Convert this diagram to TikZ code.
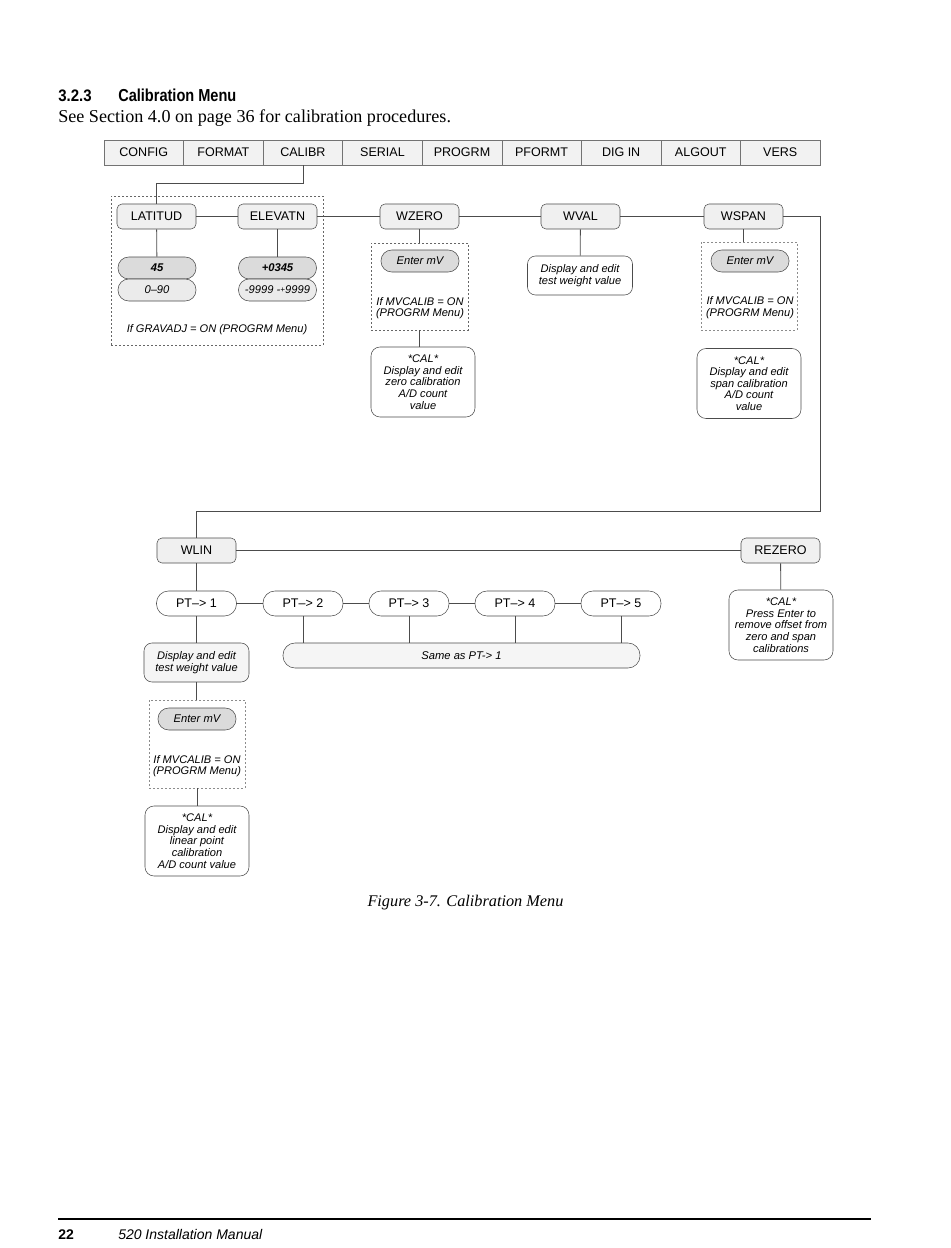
\documentclass[tikz,border=0pt]{standalone}
\usepackage{fontspec}
\setmainfont{Liberation Serif}
\setsansfont{Liberation Sans}
\usepackage{graphicx}
\begin{document}
\begin{tikzpicture}[x=0.75pt,y=-0.75pt]
  \def\cellw{59.67pt}
  \tikzstyle{link} = [draw=black!70, line width=0.6pt]
  \tikzstyle{menucell} = [draw=black!55, fill=black!5, minimum width=\cellw, minimum height=18.75pt, inner sep=0pt, font=\sffamily\fontsize{9.4}{10}\selectfont]
  \tikzstyle{item} = [draw=black!70, fill=black!6, rounded corners=3.75pt, minimum width=59.25pt, minimum height=18.75pt, inner sep=0pt, font=\sffamily\fontsize{9.4}{10}\selectfont]
  \tikzstyle{valpill} = [draw=black!70, fill=black!14, rounded corners=8pt, minimum width=58.5pt, minimum height=16.5pt, inner sep=0pt, font=\sffamily\itshape\fontsize{8.4}{9}\selectfont]
  \tikzstyle{ptpill} = [draw=black!70, fill=white, rounded corners=9pt, minimum width=60pt, minimum height=18.75pt, inner sep=0pt, font=\sffamily\fontsize{9.4}{10}\selectfont]
  \tikzstyle{note} = [draw=black!70, fill=white, rounded corners=6.75pt, minimum width=78pt, minimum height=52.5pt, inner sep=0pt, align=center, font=\sffamily\itshape\fontsize{8.3}{8.7}\selectfont]
  \tikzstyle{dispnote} = [note, fill=black!4, minimum width=78.75pt, minimum height=29.25pt, rounded corners=6pt]
  \tikzstyle{optbox} = [draw=black!60, dash pattern=on 1.5pt off 1.5pt, line width=0.6pt, inner sep=0pt]
  \tikzstyle{remark} = [inner sep=0pt, align=center, font=\sffamily\itshape\fontsize{8.3}{8.7}\selectfont]

  \useasboundingbox[fill=white] (0,0) rectangle (950,1248);

  % heading
  \node[anchor=base west, inner sep=0pt, font=\sffamily\bfseries\fontsize{12.5}{14}\selectfont] (secnum) at (58,102) {\scalebox{0.9}[1]{3.2.3}};
  \node[anchor=base west, inner sep=0pt, font=\sffamily\bfseries\fontsize{13}{14}\selectfont] (sectitle) at (118,102) {\scalebox{0.84}[1]{Calibration Menu}};
  \node[anchor=base west, inner sep=0pt, font=\fontsize{13.6}{15}\selectfont] (intro) at (58,123) {See Section 4.0 on page 36 for calibration procedures.};

  % top menu
  \foreach \name [count=\i] in {CONFIG, FORMAT, CALIBR, SERIAL, PROGRM, PFORMT, DIG IN, ALGOUT, VERS}
    \node[menucell] (m\i) at ({104+79.56*(\i-0.5)}, 152.5) {\name};

  % optional groups (drawn first)
  \node[optbox, minimum width=159pt, minimum height=111.75pt] (gravbox) at (217,270.5) {};
  \node[optbox, minimum width=72.75pt, minimum height=65.25pt] (zbox) at (419.5,286.5) {};
  \node[optbox, draw=black!45, minimum width=72pt, minimum height=66pt] (sbox) at (749,286) {};
  \node[optbox, draw=black!45, minimum width=72pt, minimum height=66pt] (lbox) at (197,744) {};

  % first row
  \node[item] (lat) at (156.5,216.5) {LATITUD};
  \node[item] (elev) at (277.5,216.5) {ELEVATN};
  \node[item] (wzero) at (419.5,216.5) {WZERO};
  \node[item] (wval) at (580.5,216.5) {WVAL};
  \node[item] (wspan) at (743.5,216.5) {WSPAN};

  \node[valpill, font=\sffamily\bfseries\itshape\fontsize{8.4}{9}\selectfont] (lat45) at (157,268) {45};
  \node[valpill, fill=black!8] (latrng) at (157,290) {0–90};
  \node[valpill, font=\sffamily\bfseries\itshape\fontsize{8.4}{9}\selectfont] (elev0345) at (277.5,268) {+0345};
  \node[valpill, fill=black!8] (elevrng) at (277.5,290) {-9999 -\raisebox{0.3ex}{\fontsize{6}{6}\selectfont+}9999};
  \node[remark] (gravnote) at (217,330) {If GRAVADJ = ON (PROGRM Menu)};

  \node[valpill] (zmv) at (420,261) {Enter mV};
  \node[remark] (ztext) at (420,308) {If MVCALIB = ON\\(PROGRM Menu)};
  \node[note] (zcal) at (423,382) {*CAL*\\Display and edit\\zero calibration\\A/D count\\value};

  \node[dispnote, fill=white] (valnote) at (580,275.5) {Display and edit\\test weight value};

  \node[valpill] (smv) at (750,261) {Enter mV};
  \node[remark] (stext) at (750,307.5) {If MVCALIB = ON\\(PROGRM Menu)};
  \node[note] (scal) at (749,383.5) {*CAL*\\Display and edit\\span calibration\\A/D count\\value};

  % second row
  \node[item] (wlin) at (196.5,550.5) {WLIN};
  \node[item] (rezero) at (780.5,550.5) {REZERO};
  \node[note] (rcal) at (781,625) {*CAL*\\Press Enter to\\remove offset from\\zero and span\\calibrations};

  \foreach \x [count=\i] in {196.5, 303, 409, 515, 621}
    \node[ptpill] (pt\i) at (\x,603.5) {PT–> \i};
  \node[ptpill, fill=black!4, minimum width=267.75pt, font=\sffamily\itshape\fontsize{8.4}{9}\selectfont] (same) at (461.5,655.5) {Same as PT-> 1};

  \node[dispnote] (lindisp) at (196.5,662.5) {Display and edit\\test weight value};
  \node[valpill] (lmv) at (197,719) {Enter mV};
  \node[remark] (ltext) at (197,766) {If MVCALIB = ON\\(PROGRM Menu)};
  \node[note] (lcal) at (197,841) {*CAL*\\Display and edit\\linear point\\calibration\\A/D count value};

  % connectors
  \draw[link] (m3.south) -- ++(0,18) -| (lat.north);
  \draw[link] (lat) -- (elev);
  \draw[link] (elev) -- (wzero);
  \draw[link] (wzero) -- (wval);
  \draw[link] (wval) -- (wspan);
  \coordinate (turn) at (820,511);
  \draw[link] (wspan.east) -| (turn) -| (wlin.north);
  \draw[link] (lat) -- (lat45);
  \draw[link] (elev) -- (elev0345);
  \draw[link] (wzero) -- (zbox.north);
  \draw[link] (zbox.south) -- (zbox.south |- zcal.north);
  \draw[link] (wval) -- (valnote);
  \draw[link] (wspan) -- (wspan |- sbox.north);
  \draw[link] (scal.north -| sbox.south) -- (scal.north);
  \draw[link] (wlin) -- (rezero);
  \draw[link] (rezero) -- (rcal);
  \draw[link] (wlin) -- (pt1);
  \foreach \i [evaluate=\i as \j using int(\i+1)] in {1,...,4}
    \draw[link] (pt\i) -- (pt\j);
  \foreach \i in {2,...,5}
    \draw[link] (pt\i.south) -- (pt\i.south |- same.north);
  \draw[link] (pt1) -- (lindisp);
  \draw[link] (lindisp.south) -- (lindisp.south |- lbox.north);
  \draw[link] (lbox.south) -- (lcal.north -| lbox.south);

  % caption and footer
  \node[font=\itshape\fontsize{12.2}{14}\selectfont, inner sep=0pt] (caption) at (465.5,903) {Figure 3-7. Calibration Menu};
  \coordinate (ruleL) at (58,1219);
  \coordinate (ruleR) at (871,1219);
  \draw[line width=1.4pt] (ruleL) -- (ruleR);
  \node[anchor=base west, inner sep=0pt, font=\sffamily\bfseries\fontsize{10.5}{12}\selectfont] (pagenum) at (58,1239) {22};
  \node[anchor=base west, inner sep=0pt, font=\sffamily\itshape\fontsize{10.5}{12}\selectfont] (manual) at (118,1239) {520 Installation Manual};
\end{tikzpicture}
\end{document}
